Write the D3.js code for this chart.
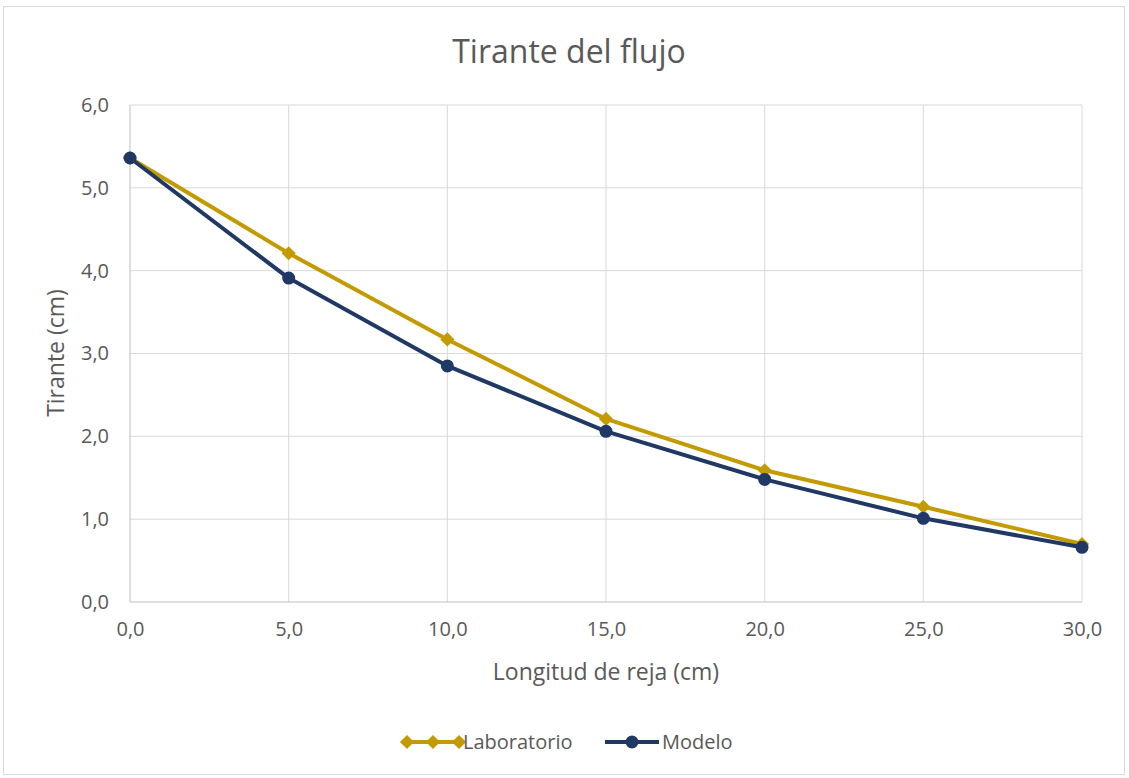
<!DOCTYPE html>
<html>
<head>
<meta charset="utf-8">
<script src="https://cdn.jsdelivr.net/npm/d3@7"></script>
<style>
  body { margin: 0; background: #fff; }
  svg { font-family: "Open Sans", "Noto Sans", sans-serif; }
</style>
</head>
<body>
<svg></svg>
<script>
const longitud = [0, 5, 10, 15, 20, 25, 30];
const laboratorio = [5.36, 4.21, 3.17, 2.21, 1.59, 1.15, 0.70];
const modelo = [5.36, 3.91, 2.85, 2.06, 1.48, 1.01, 0.66];
const xTicks = [0, 5, 10, 15, 20, 25, 30];
const yTicks = [0, 1, 2, 3, 4, 5, 6];

const svgWidth = 1129, svgHeight = 778;
const svg = d3.select("svg").attr("width", svgWidth).attr("height", svgHeight);

svg.append("rect")
    .attr("x", 3.5).attr("y", 6.5)
    .attr("width", 1121).attr("height", 768)
    .attr("fill", "#fff").attr("stroke", "#d9d9d9");

const x = d3.scaleLinear().domain([0, 30]).range([130, 1082]);
const y = d3.scaleLinear().domain([0, 6]).range([602, 105]);
const fmt = d => d3.format(".1f")(d).replace(".", ",");

// gridlines
svg.append("g").selectAll("line").data(yTicks.filter(d => d > 0)).enter().append("line")
    .attr("x1", x(0)).attr("x2", x(30))
    .attr("y1", d => y(d)).attr("y2", d => y(d))
    .attr("stroke", "#d9d9d9").attr("stroke-width", 1);
svg.append("g").selectAll("line").data(xTicks.filter(d => d > 0)).enter().append("line")
    .attr("x1", d => x(d)).attr("x2", d => x(d))
    .attr("y1", y(0)).attr("y2", y(6))
    .attr("stroke", "#d9d9d9").attr("stroke-width", 1);

// axes
const xAxis = svg.append("g").attr("transform", "translate(0," + y(0) + ")")
    .call(d3.axisBottom(x).tickValues(xTicks).tickFormat(fmt).tickSize(0).tickPadding(20));
const yAxis = svg.append("g").attr("transform", "translate(" + x(0) + ",0)")
    .call(d3.axisLeft(y).tickValues(yTicks).tickFormat(fmt).tickSize(0).tickPadding(21));
[xAxis, yAxis].forEach(a => {
    a.select(".domain").attr("stroke", "#bfbfbf").attr("stroke-width", 1);
    a.selectAll("text").attr("fill", "#595959").style("font-size", "20px")
        .style("font-family", "'Open Sans', 'Noto Sans', sans-serif");
});
yAxis.select(".domain").attr("d", "M0," + y(0) + "V" + y(6));
xAxis.select(".domain").attr("d", "M" + x(0) + ",0H" + x(30));

// titles
svg.append("text").attr("x", 569).attr("y", 63).attr("text-anchor", "middle")
    .attr("fill", "#595959").style("font-size", "32px").text("Tirante del flujo");
svg.append("text").attr("x", 606).attr("y", 680).attr("text-anchor", "middle")
    .attr("fill", "#595959").style("font-size", "23px").text("Longitud de reja (cm)");
svg.append("text").attr("transform", "translate(64,353) rotate(-90)").attr("text-anchor", "middle")
    .attr("fill", "#595959").style("font-size", "23px").text("Tirante (cm)");

const line = d3.line().x((d, i) => x(longitud[i])).y(d => y(d));
const gold = "#C39A00", navy = "#203864";
const diamond = d3.symbol().type(d3.symbolSquare).size(100);

svg.append("path").datum(laboratorio).attr("d", line)
    .attr("fill", "none").attr("stroke", gold).attr("stroke-width", 4).attr("stroke-linejoin", "round");
svg.append("g").selectAll("path").data(laboratorio).enter().append("path")
    .attr("d", diamond).attr("transform", (d, i) => "translate(" + x(longitud[i]) + "," + y(d) + ") rotate(45)")
    .attr("fill", gold);

svg.append("path").datum(modelo).attr("d", line)
    .attr("fill", "none").attr("stroke", navy).attr("stroke-width", 4).attr("stroke-linejoin", "round");
svg.append("g").selectAll("circle").data(modelo).enter().append("circle")
    .attr("cx", (d, i) => x(longitud[i])).attr("cy", d => y(d)).attr("r", 6.5)
    .attr("fill", navy);

// legend
const lg = svg.append("g");
lg.append("line").attr("x1", 406).attr("x2", 460).attr("y1", 742).attr("y2", 742)
    .attr("stroke", gold).attr("stroke-width", 4);
[407, 433, 459].forEach(px => lg.append("path").attr("d", diamond)
    .attr("transform", "translate(" + px + ",742) rotate(45)").attr("fill", gold));
lg.append("text").attr("x", 463).attr("y", 749).attr("fill", "#595959").style("font-size", "20px").text("Laboratorio");
lg.append("line").attr("x1", 605).attr("x2", 659).attr("y1", 742).attr("y2", 742)
    .attr("stroke", navy).attr("stroke-width", 4);
lg.append("circle").attr("cx", 632).attr("cy", 742).attr("r", 6.5).attr("fill", navy);
lg.append("text").attr("x", 662).attr("y", 749).attr("fill", "#595959").style("font-size", "20px").text("Modelo");
</script>
</body>
</html>
